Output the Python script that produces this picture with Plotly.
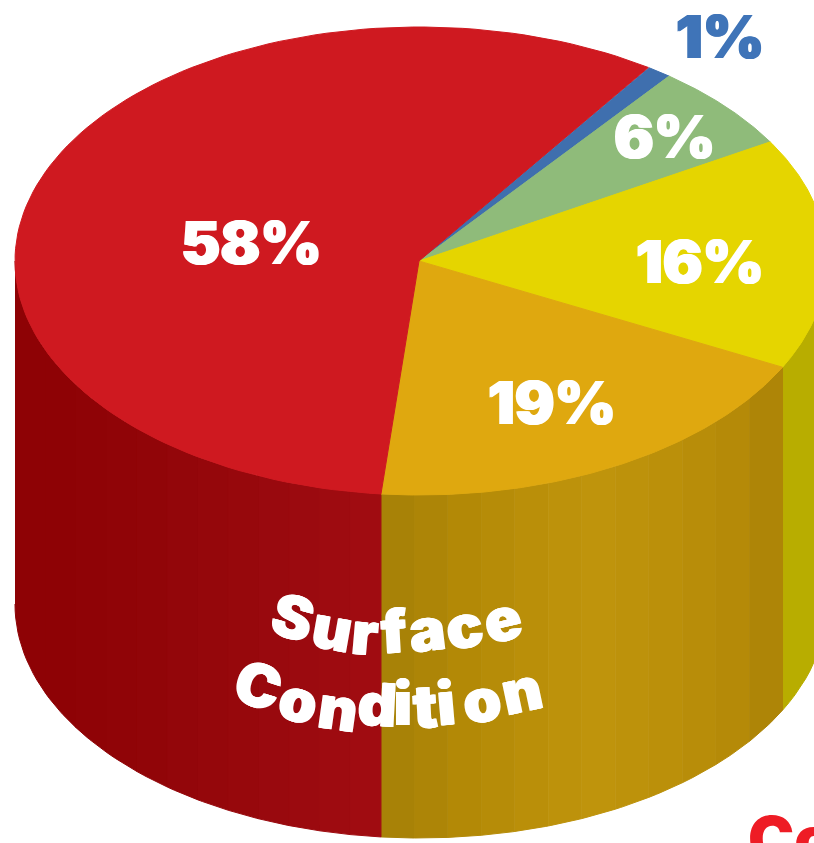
import numpy as np
import plotly.graph_objects as go

# ---- data ----
categories = ["Blue", "Green", "Yellow", "Orange", "Red"]
values = [1, 6, 16, 19, 58]
top_colors = ["#3f6fae", "#8fbb7a", "#e5d500", "#dfa80f", "#cf1920"]
side_shades = {
    "Yellow": ["#b8ad00"],
    "Orange": ["#a88207", "#ad8507", "#b38906", "#b68c08", "#ba8f09", "#bd920b", "#bf940c",
               "#bd920b", "#bb900a", "#b88d09", "#b58a08", "#ae8507"],
    "Red": ["#8e0205", "#8e0205", "#8f0306", "#900407", "#910508", "#93060a", "#95070b",
            "#97080c", "#99090e", "#9b0a0f", "#9e0b10", "#a00c11"],
}
label_pos = {"Blue": (720, 36), "Green": (664, 136), "Yellow": (700, 261), "Orange": (552, 402), "Red": (251, 242)}
label_color = {"Blue": "#3f74b8"}
title_letters = list("SurfaceCondition")
title_x = [293, 332, 365, 394, 427, 464, 502, 258, 299, 338, 377, 403, 425, 446, 482, 521]
title_y = [617, 628, 633, 631, 629, 626, 619, 685, 700, 708, 704, 703, 706, 703, 700, 690]
title_rot = [15, 10, 5, -3, -7, -10, -13, 18, 13, 8, 3, 0, -3, -5, -8, -12]

# ---- geometry ----
cx, cy, rx_left, rx_right, ry, depth = 419, 261, 404, 408, 234, 343
start_deg = 55.8
FONT = "Inter"


def ex(t):
    c = np.cos(np.radians(t))
    return cx + np.where(c > 0, rx_right, rx_left) * c


def ey(t):
    return cy - ry * np.sin(np.radians(t))


def x_to_t(x):
    r = rx_right if x > cx else rx_left
    return 360 - np.degrees(np.arccos(np.clip((x - cx) / r, -1, 1)))


edges = start_deg - np.cumsum([0] + values) * 3.6
fig = go.Figure()


def poly(x, y, color):
    fig.add_trace(go.Scatter(x=x, y=y, mode="lines", fill="toself", fillcolor=color,
                             line=dict(color=color, width=1), hoverinfo="skip", showlegend=False))


# Side wall, split into vertical bands (front half of the ellipse only: 180..360 deg)
for i, name in enumerate(categories):
    if name not in side_shades:
        continue
    high = edges[i] % 360
    low = edges[i + 1] % 360
    if low < 180:
        low = 180.0
    if high < 180:
        high = 360.0
    shades = side_shades[name]
    xs = np.linspace(float(ex(low)), float(ex(high)), len(shades) + 1)
    for j, c in enumerate(shades):
        ts = np.linspace(x_to_t(xs[j]), x_to_t(xs[j + 1]), 14)
        poly(np.r_[ex(ts), ex(ts[::-1])], np.r_[ey(ts), ey(ts[::-1]) + depth], c)

# Top face
for i, name in enumerate(categories):
    ts = np.linspace(edges[i], edges[i + 1], 120)
    poly(np.r_[cx, ex(ts), cx], np.r_[cy, ey(ts), cy], top_colors[i])


def heavy(color):
    return f"1px 0 0 {color}, -1px 0 0 {color}"


ann = []
for name, v in zip(categories, values):
    x, y = label_pos[name]
    col = label_color.get(name, "white")
    ann.append(dict(x=x, y=y, text=f"{v}%", showarrow=False,
                    font=dict(family=FONT, size=59, weight=900, color=col, shadow=heavy(col))))
for ch, x, y, r in zip(title_letters, title_x, title_y, title_rot):
    ann.append(dict(x=x, y=y, text=ch, textangle=r, showarrow=False,
                    font=dict(family=FONT, size=60, weight=900, color="white", shadow=heavy("white"))))
ann.append(dict(x=746, y=838, text="Co", xanchor="left", showarrow=False,
                font=dict(family=FONT, size=62, weight=900, color="#ee1c25")))

fig.update_layout(
    width=814, height=843, margin=dict(l=0, r=0, t=0, b=0),
    paper_bgcolor="white", plot_bgcolor="white", annotations=ann, showlegend=False,
    xaxis=dict(range=[0, 814], visible=False, fixedrange=True),
    yaxis=dict(range=[843, 0], visible=False, fixedrange=True),
)
fig.write_html("out.html", config=dict(displayModeBar=False),
               post_script="document.body.style.margin='0';document.body.style.overflow='hidden';")
